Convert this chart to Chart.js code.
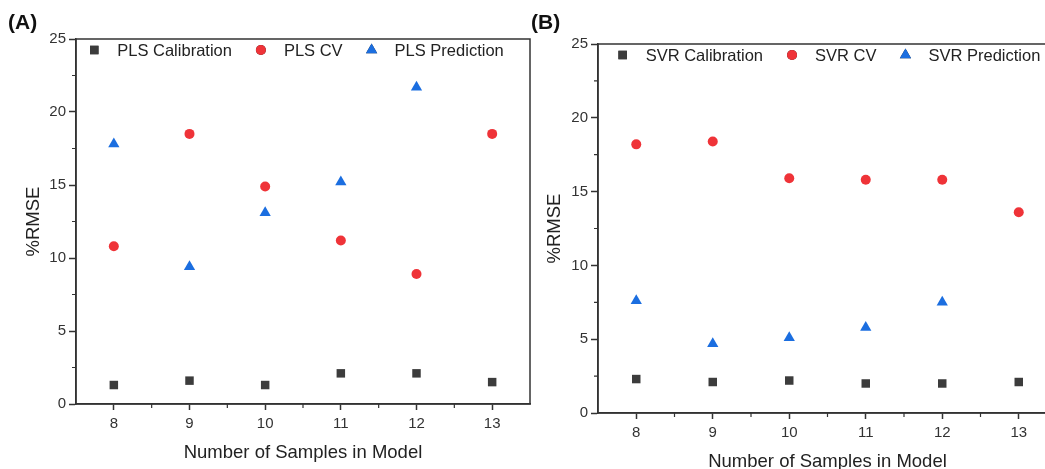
<!DOCTYPE html>
<html>
<head>
<meta charset="utf-8">
<script src="https://cdn.jsdelivr.net/npm/chart.js@4/dist/chart.umd.min.js"></script>
<style>
  html, body { margin: 0; padding: 0; background: #fff; }
  body { width: 1045px; height: 469px; position: relative; overflow: hidden; font-family: "Liberation Sans", Arial, sans-serif; }
  .wrap { position: absolute; top: 0; height: 469px; }
  #wrapA { left: 0; width: 545px; }
  #wrapB { left: 520px; width: 550px; }
  .tag { position: absolute; top: 10px; font: bold 21px "Liberation Sans", Arial, sans-serif; color: #111; }
</style>
</head>
<body>
<div class="wrap" id="wrapA"><canvas id="chartA" width="545" height="469"></canvas></div>
<div class="wrap" id="wrapB"><canvas id="chartB" width="550" height="469"></canvas></div>
<div class="tag" style="left:8px">(A)</div>
<div class="tag" style="left:531px">(B)</div>
<script>
// samples in model (x)
const samples = [8, 9, 10, 11, 12, 13];
const xTicks = [8, 9, 10, 11, 12, 13];
const yTicks = [0, 5, 10, 15, 20, 25];

// panel A : PLS
const plsCalibration = [1.3, 1.6, 1.3, 2.1, 2.1, 1.5];
const plsCV          = [10.8, 18.5, 14.9, 11.2, 8.9, 18.5];
const plsPrediction  = [17.8, 9.4, 13.1, 15.2, 21.7, null];

// panel B : SVR
const svrCalibration = [2.3, 2.1, 2.2, 2.0, 2.0, 2.1];
const svrCV          = [18.2, 18.4, 15.9, 15.8, 15.8, 13.6];
const svrPrediction  = [7.6, 4.7, 5.1, 5.8, 7.5, null];

const FONT = '"Liberation Sans", Arial, sans-serif';
const AXIS = '#333';
const C_CAL = '#3c3c3c', C_CV = '#ef3338', C_PRED = '#1b6ee0';

function pts(vals) {
  return samples.map((x, i) => ({ x, y: vals[i] })).filter(p => p.y != null);
}

// box + minor ticks + legend drawn on top of chart area
const frame = {
  id: 'frame',
  afterDraw(chart, args, opts) {
    const { ctx, chartArea: a, scales } = chart;
    ctx.save();
    ctx.strokeStyle = AXIS;
    ctx.lineWidth = 1.5;
    ctx.strokeRect(a.left, a.top, a.right - a.left, a.bottom - a.top);

    // minor ticks (half steps)
    ctx.lineWidth = 1.2;
    ctx.beginPath();
    for (let v = 8.5; v < 13.5; v += 1) {
      const px = scales.x.getPixelForValue(v);
      ctx.moveTo(px, a.bottom); ctx.lineTo(px, a.bottom + 4);
    }
    for (let v = 2.5; v < 25; v += 5) {
      const py = scales.y.getPixelForValue(v);
      ctx.moveTo(a.left, py); ctx.lineTo(a.left - 4, py);
    }
    ctx.stroke();

    // legend
    ctx.font = '16.5px ' + FONT;
    ctx.textBaseline = 'middle';
    ctx.fillStyle = '#222';
    const items = chart.data.datasets;
    const gapText = 23, gapItem = 29;
    let total = 0;
    items.forEach((d, i) => { total += gapText + ctx.measureText(d.label).width + (i < items.length - 1 ? gapItem : 0); });
    let x = (a.left + a.right) / 2 - total / 2 + opts.shift;
    const y = a.top + 11;
    items.forEach(d => {
      Chart.helpers.drawPoint(ctx, { pointStyle: d.pointStyle, radius: d.pointRadius, rotation: 0, borderWidth: 0 }, x, y);
      ctx.fillStyle = d.backgroundColor;
      ctx.fill();
      ctx.fillStyle = '#222';
      ctx.fillText(d.label, x + gapText, y + 1);
      x += gapText + ctx.measureText(d.label).width + gapItem;
    });
    ctx.restore();
  }
};

function makeChart(id, names, cal, cv, pred, layout) {
  return new Chart(document.getElementById(id), {
    type: 'scatter',
    data: {
      datasets: [
        { label: names[0], data: pts(cal), pointStyle: 'rect', pointRadius: 6, backgroundColor: C_CAL, borderWidth: 0 },
        { label: names[1], data: pts(cv), pointStyle: 'circle', pointRadius: 5, backgroundColor: C_CV, borderWidth: 0 },
        { label: names[2], data: pts(pred), pointStyle: 'triangle', pointRadius: 6.5, backgroundColor: C_PRED, borderWidth: 0 }
      ]
    },
    options: {
      responsive: false,
      animation: false,
      layout: { padding: { top: layout.top, right: layout.right, left: 0, bottom: 0 } },
      plugins: { legend: { display: false }, tooltip: { enabled: false }, frame: { shift: layout.shift } },
      scales: {
        x: {
          type: 'linear', min: 7.5, max: 13.5,
          afterBuildTicks: s => { s.ticks = xTicks.map(v => ({ value: v })); },
          afterFit: s => { s.height = layout.xh; },
          grid: { drawOnChartArea: false, tickLength: 6, tickColor: AXIS, tickWidth: 1.5 },
          border: { color: AXIS, width: 1.5 },
          ticks: { color: '#333', font: { family: FONT, size: 15 }, padding: 5 },
          title: { display: true, text: 'Number of Samples in Model', color: '#222', font: { family: FONT, size: 18.5 }, padding: { top: 0, bottom: layout.xbp } }
        },
        y: {
          min: 0, max: 25,
          afterBuildTicks: s => { s.ticks = yTicks.map(v => ({ value: v })); },
          afterFit: s => { s.width = layout.yw; },
          grid: { drawOnChartArea: false, tickLength: 7, tickColor: AXIS, tickWidth: 1.5 },
          border: { color: AXIS, width: 1.5 },
          ticks: { color: '#333', font: { family: FONT, size: 15 }, padding: 3 },
          title: { display: true, text: '%RMSE', color: '#222', font: { family: FONT, size: 18.5 }, padding: { top: layout.ytp, bottom: 0 } }
        }
      }
    },
    plugins: [frame]
  });
}

makeChart('chartA', ['PLS Calibration', 'PLS CV', 'PLS Prediction'], plsCalibration, plsCV, plsPrediction,
  { top: 39, right: 15, yw: 76, xh: 65, xbp: 5, ytp: 23, shift: -4 });
makeChart('chartB', ['SVR Calibration', 'SVR CV', 'SVR Prediction'], svrCalibration, svrCV, svrPrediction,
  { top: 44, right: 13, yw: 78, xh: 56, xbp: -4, ytp: 24, shift: 4 });
</script>
</body>
</html>
